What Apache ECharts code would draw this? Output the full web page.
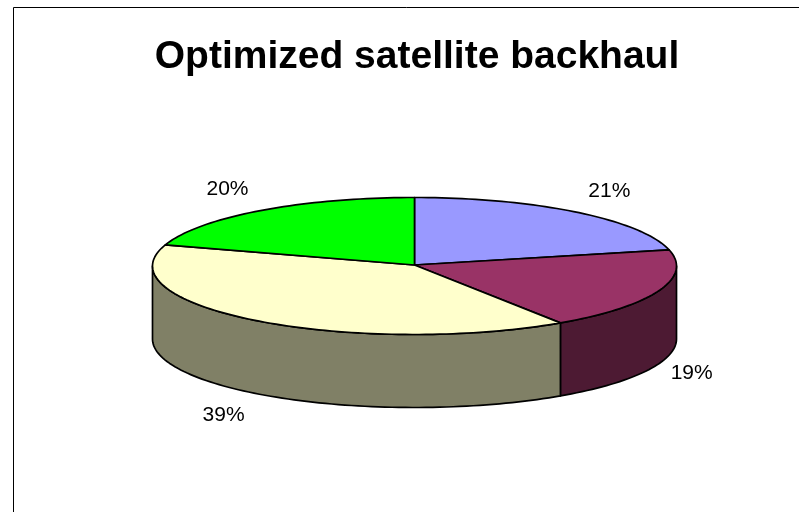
<!DOCTYPE html>
<html>
<head>
<meta charset="utf-8">
<style>html,body{margin:0;padding:0;background:#fff}#c{width:799px;height:512px}</style>
<script src="https://cdn.jsdelivr.net/npm/echarts@6/dist/echarts.min.js"></script>
</head>
<body>
<div id="c"></div>
<script>
const chartTitle = 'Optimized satellite backhaul';
const sliceValues = [21.2, 19.4, 39.4, 20.0];
const topColors = ['#9999FF', '#993366', '#FFFFCC', '#00FF00'];
const wallColors = ['#4D4D80', '#4D1A33', '#808066', '#008000'];

const cx = 414.5, cy = 266, rx = 262, ry = 68.5, depth = 73;
const total = sliceValues.reduce((a, b) => a + b, 0);
const rad = d => d * Math.PI / 180;
const pt = (deg, dy) => [cx + rx * Math.sin(rad(deg)), cy - ry * Math.cos(rad(deg)) + (dy || 0)];
const arc = (a, b, dy) => {
  const out = [];
  const n = Math.max(1, Math.ceil(Math.abs(b - a) / 1.5));
  for (let i = 0; i <= n; i++) out.push(pt(a + (b - a) * i / n, dy));
  return out;
};
const lineStyle = { stroke: '#000', lineWidth: 1.7, lineJoin: 'round' };

function renderItem(params, api) {
  const i = params.dataIndex;
  let before = 0;
  for (let k = 0; k < i; k++) before += sliceValues[k];
  const a0 = before / total * 360;
  const a1 = (before + api.value(0)) / total * 360;
  const mid = (a0 + a1) / 2;
  const children = [];
  const w0 = Math.max(a0, 90), w1 = Math.min(a1, 270);
  if (w1 > w0) {
    children.push({
      type: 'polygon',
      shape: { points: arc(w0, w1, 0).concat(arc(w1, w0, depth)) },
      style: Object.assign({ fill: wallColors[i] }, lineStyle)
    });
  }
  children.push({
    type: 'polygon',
    shape: { points: [[cx, cy - 1]].concat(arc(a0, a1, 0)) },
    style: Object.assign({ fill: topColors[i] }, lineStyle)
  });
  const s = Math.sin(rad(mid)), c = Math.cos(rad(mid));
  const anchor = pt(mid, c < 0 ? depth : 0);
  children.push({
    type: 'text',
    style: {
      x: anchor[0] + (s >= 0 ? 33 : -33),
      y: anchor[1] - 27 * c,
      text: Math.round(api.value(0)) + '%',
      fill: '#000',
      font: '21px "Liberation Sans", Arial, sans-serif',
      align: 'center',
      verticalAlign: 'middle'
    }
  });
  return { type: 'group', children };
}

const chart = echarts.init(document.getElementById('c'), null, { renderer: 'canvas' });
chart.setOption({
  animation: false,
  backgroundColor: '#fff',
  title: {
    text: chartTitle,
    left: 412,
    top: 33,
    textAlign: 'center',
    textStyle: { color: '#000', fontFamily: '"Liberation Sans", Arial, sans-serif', fontWeight: 'bold', fontSize: 39 }
  },
  graphic: [
    { type: 'line', shape: { x1: 13.5, y1: 7.5, x2: 799, y2: 7.5 }, style: { stroke: '#000', lineWidth: 1 } },
    { type: 'line', shape: { x1: 13.5, y1: 7.5, x2: 13.5, y2: 512 }, style: { stroke: '#000', lineWidth: 1 } }
  ],
  series: [{
    type: 'custom',
    coordinateSystem: 'none',
    renderItem,
    silent: true,
    data: sliceValues.map(v => [v])
  }]
});
</script>
</body>
</html>
